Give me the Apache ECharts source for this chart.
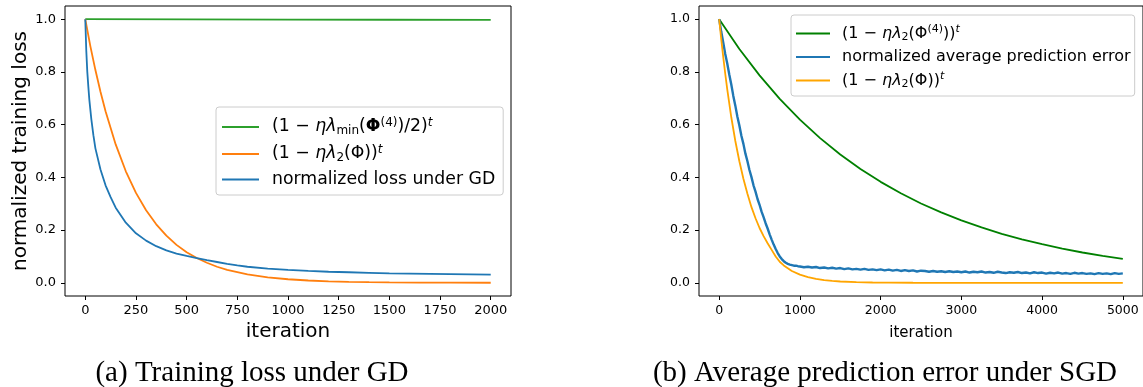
<!DOCTYPE html>
<html>
<head>
<meta charset="utf-8">
<script src="https://cdn.jsdelivr.net/npm/echarts@6/dist/echarts.min.js"></script>
<style>
html,body{margin:0;padding:0;background:#fff;}
#c{width:1143px;height:387px;}
</style>
</head>
<body>
<div id="c"></div>
<script>
// ---------- (a) Training loss under GD ----------
const gdGreenIter = [0, 500, 1000, 1500, 2000];
const gdGreen = [1.0, 0.9993, 0.9985, 0.9978, 0.997];

const gdOrangeIter = [0, 25, 50, 75, 100, 150, 200, 250, 300, 350, 400, 450, 500, 550, 600, 650, 700, 800, 900, 1000, 1100, 1200, 1300, 1400, 1500, 1650, 1800, 2000];
const gdOrange = [1.0, 0.898, 0.807, 0.725, 0.651, 0.525, 0.423, 0.341, 0.275, 0.222, 0.179, 0.144, 0.116, 0.094, 0.076, 0.061, 0.049, 0.032, 0.021, 0.0136, 0.0088, 0.0057, 0.0037, 0.0024, 0.0016, 0.0008, 0.0004, 0.0002];

const gdBlueIter = [0, 5, 10, 15, 20, 30, 40, 50, 75, 100, 125, 150, 200, 250, 300, 350, 400, 450, 500, 550, 600, 650, 700, 750, 800, 900, 1000, 1100, 1200, 1300, 1400, 1500, 1600, 1700, 1800, 1900, 2000];
const gdBlue = [1.0, 0.88, 0.80, 0.745, 0.695, 0.62, 0.56, 0.51, 0.43, 0.37, 0.325, 0.285, 0.228, 0.188, 0.16, 0.139, 0.123, 0.111, 0.102, 0.094, 0.086, 0.079, 0.072, 0.066, 0.061, 0.054, 0.049, 0.045, 0.042, 0.040, 0.038, 0.036, 0.035, 0.034, 0.033, 0.032, 0.031];

const gdXTicks = [0, 250, 500, 750, 1000, 1250, 1500, 1750, 2000];
const yTicks = [0, 0.2, 0.4, 0.6, 0.8, 1.0];

// ---------- (b) Average prediction error under SGD ----------
const sgdGreenIter = [0, 250, 500, 750, 1000, 1250, 1500, 1750, 2000, 2250, 2500, 2750, 3000, 3250, 3500, 3750, 4000, 4250, 4500, 4750, 5000];
const sgdGreen = [1.0, 0.887, 0.787, 0.698, 0.619, 0.549, 0.487, 0.432, 0.383, 0.340, 0.301, 0.267, 0.237, 0.210, 0.186, 0.165, 0.147, 0.130, 0.115, 0.102, 0.091];

const sgdOrangeIter = [0, 25, 50, 75, 100, 150, 200, 250, 300, 350, 400, 450, 500, 550, 600, 650, 700, 750, 800, 900, 1000, 1100, 1200, 1300, 1400, 1500, 1700, 1900, 2100, 2400, 2800, 3500, 5000];
const sgdOrange = [1.0, 0.925, 0.857, 0.793, 0.734, 0.628, 0.538, 0.461, 0.395, 0.338, 0.287, 0.245, 0.208, 0.177, 0.150, 0.125, 0.100, 0.080, 0.066, 0.045, 0.031, 0.022, 0.015, 0.010, 0.007, 0.005, 0.0024, 0.0012, 0.0006, 0.0002, 0.0001, 0.00002, 0.0];

const sgdBlueIter = [0, 25, 50, 75, 100, 125, 150, 175, 200, 225, 250, 275, 300, 325, 350, 375, 400, 425, 450, 475, 500, 525, 550, 575, 600, 625, 650, 675, 700, 725, 750, 775, 800, 825, 850, 875, 900, 925, 950, 975,
  1000, 1050, 1100, 1150, 1200, 1250, 1300, 1350, 1400, 1450, 1500, 1550, 1600, 1650, 1700, 1750, 1800, 1850, 1900, 1950,
  2000, 2050, 2100, 2150, 2200, 2250, 2300, 2350, 2400, 2450, 2500, 2550, 2600, 2650, 2700, 2750, 2800, 2850, 2900, 2950,
  3000, 3050, 3100, 3150, 3200, 3250, 3300, 3350, 3400, 3450, 3500, 3550, 3600, 3650, 3700, 3750, 3800, 3850, 3900, 3950,
  4000, 4050, 4100, 4150, 4200, 4250, 4300, 4350, 4400, 4450, 4500, 4550, 4600, 4650, 4700, 4750, 4800, 4850, 4900, 4950, 5000];
const sgdBlue = [1.0, 0.953, 0.912, 0.868, 0.832, 0.790, 0.752, 0.709, 0.672, 0.631, 0.597, 0.558, 0.527, 0.490, 0.461, 0.428, 0.401, 0.370, 0.346, 0.318, 0.296, 0.270, 0.249, 0.226, 0.206, 0.184, 0.164, 0.145, 0.128, 0.113, 0.100, 0.090, 0.082, 0.076, 0.072, 0.069, 0.067, 0.065, 0.065, 0.063,
  0.062, 0.059, 0.061, 0.058, 0.060, 0.056, 0.058, 0.055, 0.057, 0.054, 0.056, 0.052, 0.055, 0.051, 0.053, 0.050, 0.053, 0.049, 0.051, 0.048,
  0.051, 0.047, 0.050, 0.046, 0.049, 0.045, 0.048, 0.045, 0.047, 0.043, 0.046, 0.045, 0.042, 0.045, 0.042, 0.044, 0.041, 0.044, 0.041, 0.043,
  0.040, 0.043, 0.039, 0.042, 0.040, 0.043, 0.039, 0.041, 0.038, 0.042, 0.039, 0.037, 0.040, 0.038, 0.041, 0.037, 0.039, 0.036, 0.040, 0.037,
  0.039, 0.035, 0.038, 0.036, 0.039, 0.035, 0.037, 0.034, 0.038, 0.035, 0.037, 0.034, 0.036, 0.033, 0.037, 0.034, 0.036, 0.033, 0.037, 0.034, 0.036];

const sgdXTicks = [0, 1000, 2000, 3000, 4000, 5000];

const captionA = '(a) Training loss under GD';
const captionB = '(b) Average prediction error under SGD';

// ---------- chart ----------
function pairs(xs, ys) { return xs.map((x, i) => [x, ys[i]]); }

function richSet(F, L, gap) {
  const base = { fontFamily: 'DejaVu Sans', color: '#000' };
  const s = Math.round(F * 0.7);
  return {
    sp: { width: gap, lineHeight: L, fontSize: F },
    n: Object.assign({ fontSize: F, lineHeight: L }, base),
    i: Object.assign({ fontSize: F, lineHeight: L, fontStyle: 'italic' }, base),
    b: Object.assign({ fontSize: F, lineHeight: L, fontWeight: 'bold' }, base),
    sub: Object.assign({ fontSize: s, lineHeight: 8, verticalAlign: 'bottom' }, base),
    sup: Object.assign({ fontSize: s, lineHeight: 8, verticalAlign: 'top' }, base),
    supi: Object.assign({ fontSize: s, lineHeight: 8, verticalAlign: 'top', fontStyle: 'italic' }, base)
  };
}

const labels = {
  g1: '{sp|}{n|(1 \u2212 }{i|\u03b7\u03bb}{sub|min}{n|(}{b|\u03a6}{sup|(4)}{n|)/2)}{supi|t}',
  o1: '{sp|}{n|(1 \u2212 }{i|\u03b7\u03bb}{sub|2}{n|(\u03a6))}{supi|t}',
  b1: '{sp|}{n|normalized loss under GD}',
  g2: '{sp|}{n|(1 \u2212 }{i|\u03b7\u03bb}{sub|2}{n|(\u03a6}{sup|(4)}{n|))}{supi|t}',
  b2: '{sp|}{n|normalized average prediction error}',
  o2: '{sp|}{n|(1 \u2212 }{i|\u03b7\u03bb}{sub|2}{n|(\u03a6))}{supi|t}'
};

function xAxisCfg(gi, min, max, ticks, nameSize, nameGap, labelSize) {
  return {
    type: 'value', gridIndex: gi, min: min, max: max,
    name: 'iteration', nameLocation: 'middle', nameGap: nameGap,
    nameTextStyle: { fontFamily: 'DejaVu Sans', fontSize: nameSize, color: '#000' },
    axisLine: { show: false, onZero: false },
    axisTick: { show: true, customValues: ticks, length: 4, inside: false, lineStyle: { color: '#000', width: 1 } },
    axisLabel: { customValues: ticks, margin: 8, fontFamily: 'DejaVu Sans', fontSize: labelSize, color: '#000',
      formatter: v => String(Math.round(v)) },
    splitLine: { show: false }
  };
}
function yAxisCfg(gi, name, labelSize) {
  return {
    type: 'value', gridIndex: gi, min: -0.05, max: 1.05,
    name: name, nameLocation: 'middle', nameGap: 34,
    nameTextStyle: { fontFamily: 'DejaVu Sans', fontSize: 20, color: '#000' },
    axisLine: { show: false, onZero: false },
    axisTick: { show: true, customValues: yTicks, length: 4, lineStyle: { color: '#000', width: 1 } },
    axisLabel: { customValues: yTicks, margin: 9, fontFamily: 'DejaVu Sans', fontSize: labelSize, color: '#000',
      formatter: v => v.toFixed(1) },
    splitLine: { show: false }
  };
}
function line(name, xi, xs, ys, color, width) {
  return {
    type: 'line', name: name, xAxisIndex: xi, yAxisIndex: xi,
    data: pairs(xs, ys), showSymbol: false, symbol: 'none', smooth: false,
    color: color, itemStyle: { color: color },
    lineStyle: { color: color, width: width }, animation: false
  };
}

const chart = echarts.init(document.getElementById('c'), null, { renderer: 'canvas' });
chart.setOption({
  backgroundColor: '#fff',
  animation: false,
  grid: [
    { left: 65, top: 6, width: 446, height: 290, show: true, borderColor: '#000', borderWidth: 1, backgroundColor: 'transparent' },
    { left: 699, top: 6, width: 446, height: 290, show: true, borderColor: '#000', borderWidth: 1, backgroundColor: 'transparent' }
  ],
  xAxis: [
    xAxisCfg(0, -100, 2100, gdXTicks, 20, 24, 13),
    xAxisCfg(1, -250, 5250, sgdXTicks, 15, 30, 12.5)
  ],
  yAxis: [
    yAxisCfg(0, 'normalized training loss', 13),
    yAxisCfg(1, '', 12.5)
  ],
  legend: [
    {
      left: 216, top: 107, orient: 'vertical', icon: 'rect', itemWidth: 37, itemHeight: 2,
      itemGap: 7, padding: [10, 8, 7, 6],
      backgroundColor: 'rgba(255,255,255,0.8)', borderColor: '#cccccc', borderWidth: 1, borderRadius: 3,
      data: ['g1', 'o1', 'b1'], selectedMode: false,
      formatter: n => labels[n],
      textStyle: { fontFamily: 'DejaVu Sans', fontSize: 17, color: '#000', rich: richSet(17.3, 20, 8) }
    },
    {
      left: 791, top: 15, orient: 'vertical', icon: 'rect', itemWidth: 34, itemHeight: 2,
      itemGap: 6, padding: [9, 4, 6, 5],
      backgroundColor: 'rgba(255,255,255,0.8)', borderColor: '#cccccc', borderWidth: 1, borderRadius: 3,
      data: ['g2', 'b2', 'o2'], selectedMode: false,
      formatter: n => labels[n],
      textStyle: { fontFamily: 'DejaVu Sans', fontSize: 16, color: '#000', rich: richSet(16, 19, 7) }
    }
  ],
  series: [
    line('g1', 0, gdGreenIter, gdGreen, '#2ca02c', 1.8),
    line('o1', 0, gdOrangeIter, gdOrange, '#ff7f0e', 1.8),
    line('b1', 0, gdBlueIter, gdBlue, '#1f77b4', 1.8),
    line('g2', 1, sgdGreenIter, sgdGreen, '#008000', 1.8),
    line('b2', 1, sgdBlueIter, sgdBlue, '#1f77b4', 2.4),
    line('o2', 1, sgdOrangeIter, sgdOrange, '#ffa500', 1.8)
  ],
  graphic: [
    { type: 'text', x: 252, y: 373, style: { text: captionA, font: '29px "Liberation Serif"', fill: '#000', align: 'center', verticalAlign: 'middle' } },
    { type: 'text', x: 885, y: 373, style: { text: captionB, font: '29px "Liberation Serif"', fill: '#000', align: 'center', verticalAlign: 'middle' } }
  ]
});
</script>
</body>
</html>
